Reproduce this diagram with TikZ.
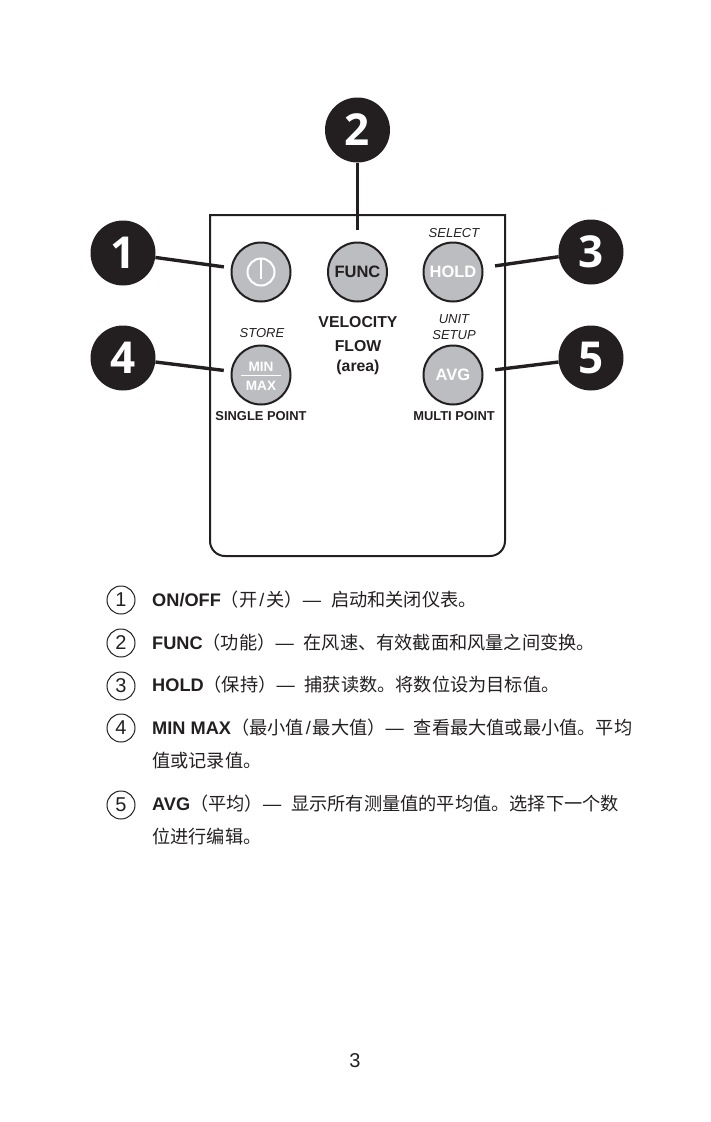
\documentclass[tikz,border=0pt]{standalone}
\usepackage{fontspec}
\setmainfont{Liberation Sans}
\setsansfont{Liberation Sans}
\newfontfamily\cjk{Noto Sans CJK SC}
\newfontfamily\bdgfont{Open Sans}
\usetikzlibrary{arrows.meta,positioning}
\definecolor{cink}{HTML}{231F20}
\definecolor{cbtn}{HTML}{BBBDC0}
\newcommand{\sls}{\hspace{2pt}/\hspace{2pt}}
\newcommand{\dsh}{—\hspace{10pt}}
\tikzset{
  panel/.style={draw=cink, line width=2pt},
  bdg/.style={circle, fill=cink, text=white, minimum size=65pt, inner sep=0pt,
              font=\bdgfont\bfseries\fontsize{44}{44}\selectfont},
  btn/.style={circle, draw=cink, fill=cbtn, line width=2pt, minimum size=59pt, inner sep=0pt,
              text=cink, font=\bfseries\fontsize{16.5}{18}\selectfont},
  btw/.style={btn, text=white},
  ldr/.style={draw=cink, line width=3.4pt},
  lblb/.style={font=\bfseries\fontsize{12.9}{15}\selectfont, text=cink},
  lbli/.style={font=\itshape\fontsize{13}{15.5}\selectfont, text=cink, align=center},
  vel/.style={font=\bfseries\fontsize{15.8}{18}\selectfont, text=cink},
  mm/.style={font=\bfseries\fontsize{13.6}{15}\selectfont, text=white},
  cnum/.style={circle, draw=cink, line width=1pt, minimum size=28pt, inner sep=0pt,
               font=\fontsize{20}{20}\selectfont, text=cink},
  txt/.style={anchor=base west, inner sep=0pt, text=cink, font=\fontsize{18.2}{21}\selectfont}
}
\begin{document}
\begin{tikzpicture}[x=1pt,y=-1pt,font=\sffamily]

\useasboundingbox (0,0) rectangle (710,1122);

\draw[panel, rounded corners=15pt] (210,400) -- (210,556) -- (505,556) -- (505,400)
  [sharp corners] -- (505,215) -- (210,215) -- cycle;

\node[btn] (on) at (261,272) {};
\node[btn] (func) at (357.5,272) {FUNC};
\node[btw] (hold) at (453,272) {HOLD};
\node[btn] (minmax) at (261,375) {};
\node[btw] (avg) at (453,375) {AVG};

\node[circle, draw=white, line width=2pt, minimum size=27pt, inner sep=0pt] (pwr) at (on) {};
\draw[white, line width=2pt] (pwr.north) -- ([yshift=-7pt]pwr.center);

\node[mm] (min) at (261,367) {MIN};
\node[mm] (max) at (261,386) {MAX};
\draw[white, line width=0.8pt] ([xshift=-20pt]minmax.center) -- ([xshift=20pt]minmax.center);

\node[bdg] (b1) at (123,253) {1};
\node[bdg] (b2) at (357.5,130) {2};
\node[bdg] (b3) at (591,252) {3};
\node[bdg] (b4) at (123,358) {4};
\node[bdg] (b5) at (591,358) {5};

\draw[ldr, shorten >=7pt] (b1) -- (on);
\draw[ldr, shorten >=12pt] (b2) -- (func);
\draw[ldr, shorten >=12pt] (b3) -- (hold);
\draw[ldr, shorten >=7pt] (b4) -- (minmax);
\draw[ldr, shorten >=12pt] (b5) -- (avg);

\node[lbli] (sel) at (454,233) {SELECT};
\node[lbli] (sto) at (262,333) {STORE};
\node[lbli] (uni) at (454,327) {UNIT\\SETUP};
\node[vel] (velo) at (358,322) {VELOCITY};
\node[vel] (flow) at (358,346) {FLOW};
\node[vel] (area) at (358,367) {(area)};
\node[lblb] (sgl) at (261,416) {SINGLE POINT};
\node[lblb] (mul) at (454,416) {MULTI POINT};

\node[cnum] (n1) at (121,600) {1};
\node[cnum] (n2) at (121,643) {2};
\node[cnum] (n3) at (121,686) {3};
\node[cnum] (n4) at (121,728) {4};
\node[cnum] (n5) at (121,805) {5};

\node[txt] (t1) at (152,606) {\textbf{ON/OFF}{\cjk （开}\sls{\cjk 关）}\dsh{\cjk 启动和关闭仪表。}};
\node[txt] (t2) at (152,649) {\textbf{FUNC}{\cjk （功能）}\dsh{\cjk 在风速、有效截面和风量之间变换。}};
\node[txt] (t3) at (152,691) {\textbf{HOLD}{\cjk （保持）}\dsh{\cjk 捕获读数。将数位设为目标值。}};
\node[txt] (t4) at (152,734) {\textbf{MIN MAX}{\cjk （最小值}\sls{\cjk 最大值）}\dsh{\cjk 查看最大值或最小值。平均}};
\node[txt] (t4b) at (152,767) {\cjk 值或记录值。};
\node[txt] (t5) at (152,810) {\textbf{AVG}{\cjk （平均）}\dsh{\cjk 显示所有测量值的平均值。选择下一个数}};
\node[txt] (t5b) at (152,843) {\cjk 位进行编辑。};

\node[font=\fontsize{20}{20}\selectfont, text=cink] (page) at (355,1061) {3};

\end{tikzpicture}
\end{document}
